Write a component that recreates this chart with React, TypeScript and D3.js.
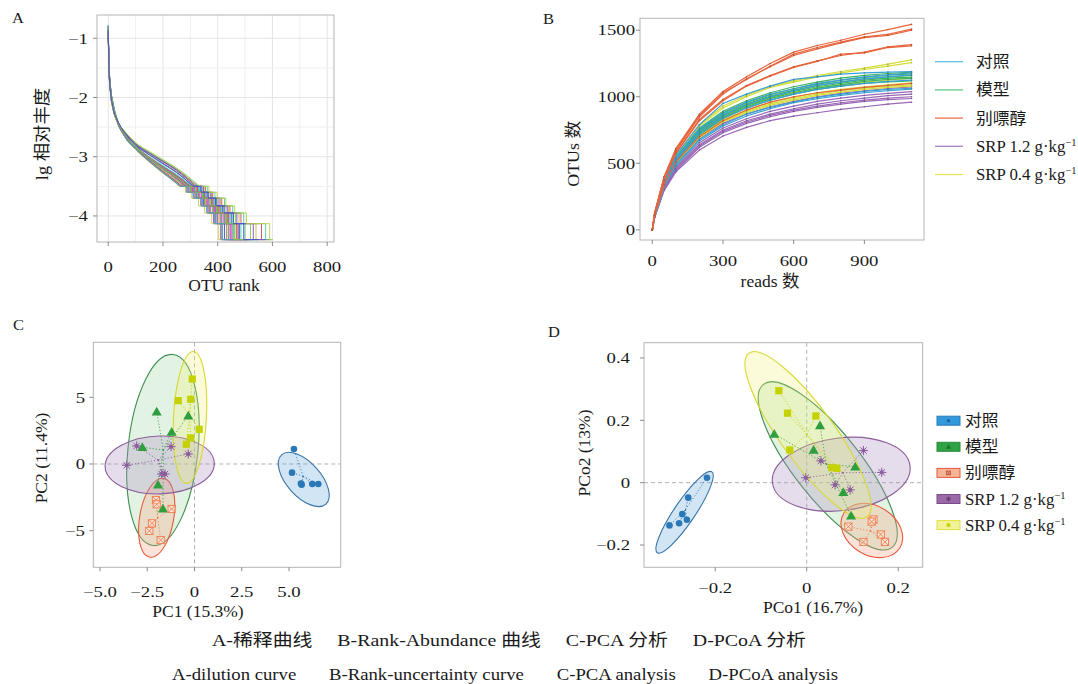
import React from 'react';
import * as d3 from 'd3';

const W = 1078;
const H = 684;
const SERIF = '"Liberation Serif","Times New Roman","Noto Sans CJK SC",serif';

// ---------------- shared categories ----------------
const GROUP_NAMES = ['对照', '模型', '别嘌醇', 'SRP 1.2 g·kg', 'SRP 0.4 g·kg'];
const GROUP_SUPS = ['', '', '', '−1', '−1'];

// ---------------- Panel A: rank-abundance ----------------
const A_X_TICKS = [0, 200, 400, 600, 800];
const A_X_GRID = [0, 100, 200, 300, 400, 500, 600, 700, 800];
const A_Y_TICKS = [-1, -2, -3, -4];
const A_Y_GRID = [-1, -1.5, -2, -2.5, -3, -3.5, -4];
const A_HEAD_RANKS = [0, 3, 8, 18, 35, 60, 100, 150, 200, 250];
const A_TAIL_LEVELS = [-3.5, -3.6, -3.7, -3.83, -3.95, -4.13, -4.4];
const A_HEAD = [
  [-0.80, -1.48, -1.84, -2.14, -2.43, -2.65, -2.85, -3.06, -3.25, -3.42],
  [-0.85, -1.52, -1.88, -2.18, -2.45, -2.65, -2.84, -3.01, -3.16, -3.31],
  [-0.82, -1.45, -1.80, -2.10, -2.41, -2.65, -2.87, -3.08, -3.27, -3.45],
  [-0.90, -1.55, -1.90, -2.20, -2.42, -2.58, -2.78, -2.93, -3.07, -3.21],
  [-0.78, -1.50, -1.86, -2.16, -2.43, -2.63, -2.83, -3.02, -3.19, -3.35],
  [-0.88, -1.47, -1.82, -2.12, -2.39, -2.60, -2.83, -3.03, -3.21, -3.38],
  [-0.83, -1.53, -1.87, -2.17, -2.44, -2.64, -2.84, -3.02, -3.18, -3.33],
  [-0.86, -1.46, -1.81, -2.11, -2.42, -2.65, -2.87, -3.07, -3.26, -3.44],
  [-0.81, -1.51, -1.89, -2.19, -2.41, -2.58, -2.78, -2.94, -3.08, -3.22],
  [-0.84, -1.49, -1.85, -2.15, -2.42, -2.62, -2.83, -3.02, -3.18, -3.34],
  [-0.87, -1.54, -1.88, -2.18, -2.40, -2.59, -2.80, -2.96, -3.11, -3.26],
  [-0.79, -1.47, -1.83, -2.13, -2.43, -2.65, -2.85, -3.05, -3.23, -3.40],
  [-0.92, -1.56, -1.91, -2.21, -2.42, -2.57, -2.77, -2.92, -3.06, -3.20],
  [-0.82, -1.50, -1.86, -2.16, -2.42, -2.62, -2.83, -3.03, -3.20, -3.36],
  [-0.85, -1.45, -1.80, -2.10, -2.40, -2.66, -2.88, -3.09, -3.28, -3.46],
  [-0.80, -1.52, -1.87, -2.17, -2.44, -2.64, -2.84, -3.02, -3.17, -3.32],
  [-0.88, -1.49, -1.84, -2.14, -2.41, -2.61, -2.83, -3.03, -3.20, -3.37],
  [-0.83, -1.53, -1.89, -2.19, -2.41, -2.58, -2.79, -2.95, -3.09, -3.24],
  [-0.81, -1.46, -1.82, -2.12, -2.42, -2.65, -2.86, -3.07, -3.25, -3.43],
  [-0.86, -1.51, -1.86, -2.16, -2.43, -2.63, -2.83, -3.02, -3.18, -3.34],
  [-0.84, -1.48, -1.83, -2.13, -2.40, -2.61, -2.84, -3.04, -3.21, -3.38],
  [-0.89, -1.54, -1.90, -2.20, -2.42, -2.58, -2.79, -2.94, -3.08, -3.23],
  [-0.80, -1.47, -1.82, -2.12, -2.42, -2.66, -2.87, -3.08, -3.26, -3.44],
  [-0.87, -1.52, -1.87, -2.17, -2.44, -2.63, -2.82, -3.00, -3.15, -3.30],
  [-0.82, -1.50, -1.85, -2.15, -2.41, -2.62, -2.83, -3.03, -3.19, -3.36],
  [-0.85, -1.55, -1.91, -2.21, -2.42, -2.57, -2.76, -2.91, -3.05, -3.19],
  [-0.78, -1.46, -1.81, -2.11, -2.41, -2.66, -2.87, -3.08, -3.27, -3.45],
  [-0.90, -1.51, -1.86, -2.16, -2.43, -2.63, -2.82, -3.01, -3.17, -3.32],
  [-0.83, -1.49, -1.84, -2.14, -2.41, -2.62, -2.83, -3.02, -3.19, -3.35],
  [-0.86, -1.53, -1.88, -2.18, -2.40, -2.59, -2.80, -2.97, -3.12, -3.27],
];
// ranks where each tail level starts, plus the last rank
const A_TAIL = [
  [270, 300, 330, 350, 372, 398, 425, 470],
  [305, 335, 360, 390, 420, 455, 500, 560],
  [262, 285, 310, 338, 360, 385, 410, 440],
  [320, 350, 378, 410, 440, 478, 540, 600],
  [290, 318, 345, 372, 398, 428, 455, 500],
  [280, 305, 330, 360, 385, 412, 440, 480],
  [300, 328, 352, 380, 405, 438, 470, 520],
  [265, 292, 318, 345, 368, 392, 418, 455],
  [325, 355, 382, 415, 445, 485, 560, 590],
  [295, 322, 348, 375, 400, 432, 462, 505],
  [310, 338, 362, 392, 418, 450, 480, 530],
  [275, 300, 325, 352, 380, 405, 432, 470],
  [330, 362, 390, 425, 455, 495, 575, 600],
  [285, 312, 340, 365, 392, 420, 448, 490],
  [258, 282, 305, 330, 352, 378, 402, 430],
  [302, 330, 355, 385, 410, 442, 476, 525],
  [282, 308, 334, 362, 388, 415, 445, 485],
  [315, 345, 372, 400, 430, 465, 520, 570],
  [268, 295, 322, 348, 372, 398, 425, 460],
  [298, 325, 350, 378, 402, 435, 468, 512],
  [278, 304, 328, 356, 382, 410, 438, 475],
  [318, 348, 375, 405, 435, 470, 530, 575],
  [266, 290, 315, 342, 366, 390, 412, 445],
  [306, 334, 358, 388, 414, 448, 485, 535],
  [288, 315, 340, 368, 395, 425, 452, 495],
  [335, 368, 398, 430, 462, 505, 590, 600],
  [263, 288, 312, 340, 362, 388, 415, 450],
  [300, 326, 352, 382, 408, 440, 474, 520],
  [292, 318, 344, 372, 396, 428, 458, 500],
  [312, 340, 366, 395, 424, 458, 495, 548],
];

// ---------------- Panel B: rarefaction ----------------
const B_X = [0, 10, 50, 100, 200, 300, 400, 500, 600, 700, 800, 900, 1000, 1100];
const B_X_TICKS = [0, 300, 600, 900];
const B_Y_TICKS = [0, 500, 1000, 1500];
const B_CTRL = [
  [0, 120, 370, 560, 790, 950, 1020, 1080, 1130, 1150, 1170, 1180, 1185, 1190],
  [0, 115, 360, 540, 760, 880, 960, 1020, 1060, 1100, 1125, 1150, 1165, 1180],
  [0, 112, 355, 530, 740, 860, 940, 1000, 1045, 1085, 1110, 1135, 1150, 1165],
  [0, 105, 330, 490, 680, 790, 870, 920, 960, 995, 1020, 1040, 1055, 1064],
  [0, 102, 325, 480, 670, 780, 855, 910, 955, 985, 1010, 1030, 1045, 1058],
  [0, 110, 345, 515, 720, 840, 915, 975, 1020, 1055, 1080, 1100, 1115, 1125],
];
const B_MODEL = [
  [0, 118, 365, 545, 765, 890, 970, 1030, 1075, 1110, 1140, 1160, 1175, 1185],
  [0, 115, 360, 535, 750, 875, 955, 1015, 1060, 1095, 1125, 1145, 1162, 1172],
  [0, 113, 355, 530, 745, 865, 945, 1005, 1050, 1085, 1112, 1135, 1150, 1160],
  [0, 110, 350, 520, 735, 855, 935, 995, 1040, 1075, 1100, 1125, 1140, 1148],
  [0, 108, 345, 515, 725, 845, 925, 985, 1030, 1065, 1090, 1115, 1130, 1138],
  [0, 106, 340, 505, 715, 835, 915, 975, 1020, 1055, 1080, 1100, 1112, 1120],
];
const B_ALLO = [
  [0, 130, 400, 610, 870, 1040, 1150, 1250, 1335, 1385, 1425, 1470, 1505, 1544],
  [0, 125, 390, 600, 860, 1030, 1130, 1230, 1320, 1370, 1410, 1450, 1470, 1508],
  [0, 128, 395, 595, 850, 1020, 1135, 1225, 1310, 1360, 1405, 1445, 1462, 1500],
  [0, 120, 380, 580, 830, 980, 1085, 1160, 1225, 1270, 1310, 1335, 1375, 1392],
  [0, 118, 375, 575, 820, 970, 1080, 1155, 1220, 1265, 1320, 1330, 1370, 1383],
  [0, 110, 340, 510, 700, 820, 900, 960, 1000, 1030, 1050, 1070, 1085, 1100],
];
const B_SRP12 = [
  [0, 105, 330, 490, 690, 800, 870, 925, 965, 1000, 1025, 1045, 1062, 1075],
  [0, 100, 315, 470, 655, 765, 835, 890, 930, 965, 990, 1010, 1025, 1038],
  [0, 98, 310, 460, 640, 750, 820, 870, 910, 945, 970, 990, 1008, 1020],
  [0, 95, 300, 445, 620, 730, 800, 850, 890, 920, 945, 965, 978, 987],
  [0, 92, 295, 435, 600, 705, 770, 820, 855, 880, 905, 925, 945, 959],
  [0, 96, 305, 450, 630, 740, 810, 860, 900, 930, 955, 975, 990, 1000],
];
const B_SRP04 = [
  [0, 120, 375, 560, 790, 930, 1010, 1080, 1120, 1160, 1190, 1215, 1245, 1277],
  [0, 118, 370, 555, 780, 915, 1000, 1070, 1110, 1150, 1180, 1205, 1230, 1256],
  [0, 112, 350, 520, 730, 850, 930, 990, 1030, 1065, 1090, 1110, 1125, 1140],
  [0, 108, 340, 500, 705, 825, 900, 955, 995, 1030, 1055, 1075, 1090, 1105],
  [0, 106, 335, 495, 695, 815, 890, 945, 985, 1020, 1045, 1065, 1080, 1090],
  [0, 104, 330, 490, 690, 810, 880, 935, 975, 1010, 1035, 1055, 1070, 1080],
];

// ---------------- Panel C: PCA ----------------
const C_X_TICKS = [-5, -2.5, 0, 2.5, 5];
const C_X_LABELS = ['−5.0', '−2.5', '0', '2.5', '5.0'];
const C_Y_TICKS = [-5, 0, 5];
const C_Y_LABELS = ['−5', '0', '5'];
const C_CTRL = [[5.26, 1.12], [5.16, -0.65], [5.63, -1.47], [5.67, -1.55], [6.23, -1.5], [6.55, -1.5]];
const C_MODEL = [[-2.0, 3.92], [-0.33, 3.62], [-1.21, 2.4], [-2.76, 1.25], [-1.93, -1.55], [-1.67, -3.35]];
const C_ALLO = [[-2.04, -2.7], [-2.0, -3.02], [-1.21, -3.37], [-2.25, -4.45], [-2.39, -5.02], [-1.79, -5.7]];
const C_SRP12 = [[-3.06, 1.35], [-3.59, -0.1], [-1.24, 1.3], [-0.33, 0.75], [-1.74, -0.75], [-1.56, -0.75]];
const C_SRP04 = [[-0.12, 6.37], [-0.86, 4.75], [-0.2, 4.85], [0.25, 2.6], [-0.2, 1.95], [-0.43, 1.48]];
// ellipse: centre x, centre y, half-axis (x units), half-axis (y units), rotation in degrees
const C_ELLIPSES = [
  [5.78, -1.16, 1.75, 1.27, 48],
  [-1.67, 1.05, 1.85, 7.2, 6],
  [-2.0, -4.03, 0.9, 3.0, 10],
  [-1.84, -0.07, 2.89, 2.17, -2],
  [-0.24, 3.49, 0.87, 4.95, 3],
];

// ---------------- Panel D: PCoA ----------------
const D_X_TICKS = [-0.2, 0, 0.2];
const D_X_LABELS = ['−0.2', '0', '0.2'];
const D_Y_TICKS = [-0.2, 0, 0.2, 0.4];
const D_Y_LABELS = ['−0.2', '0', '0.2', '0.4'];
const D_CTRL = [[-0.218, 0.016], [-0.259, -0.048], [-0.272, -0.101], [-0.262, -0.119], [-0.279, -0.13], [-0.3, -0.137]];
const D_MODEL = [[-0.071, 0.156], [0.029, 0.183], [0.015, 0.105], [0.106, 0.051], [0.08, -0.031], [0.097, -0.106]];
const D_ALLO = [[0.146, -0.118], [0.142, -0.125], [0.091, -0.141], [0.162, -0.166], [0.171, -0.19], [0.124, -0.19]];
const D_SRP12 = [[0.124, 0.103], [0.164, 0.033], [0.031, 0.07], [-0.002, 0.016], [0.062, -0.007], [0.095, -0.023]];
const D_SRP04 = [[-0.061, 0.295], [-0.042, 0.223], [0.02, 0.214], [-0.037, 0.105], [0.055, 0.048], [0.066, 0.046]];
const D_ELLIPSES = [
  [-0.267, -0.095, 0.1067, 0.0337, -56],
  [0.046, 0.054, 0.227, 0.106, 51.7],
  [0.1423, -0.1533, 0.0721, 0.0786, 32],
  [0.0754, 0.027, 0.1515, 0.1165, -7],
  [0.0028, 0.153, 0.2205, 0.0866, 54.2],
];

// ---------------- captions ----------------
const CAPTION_CN = 'A-稀释曲线     B-Rank-Abundance 曲线     C-PCA 分析     D-PCoA 分析';
const CAPTION_EN = 'A-dilution curve       B-Rank-uncertainty curve       C-PCA analysis       D-PCoA analysis';

// ---------------- styles ----------------
const B_LINE_COLORS = ['#3b9fd6', '#3db55e', '#e8643c', '#9a68b6', '#d3dd3a'];
const B_LEGEND_COLORS = ['#5cc0e4', '#62c98a', '#e8704e', '#a682c2', '#e6e65c'];
const PT_COLORS = ['#2b78b6', '#2f9e3f', '#ef7d4f', '#8b5c9c', '#c6d200'];
const ELL_STROKES = ['#3a74a8', '#3f8f4f', '#e85b3a', '#8c5d9a', '#d8d830'];
const ELL_FILLS = ['rgba(95,160,215,0.28)', 'rgba(115,195,115,0.2)', 'rgba(245,165,135,0.32)', 'rgba(175,145,195,0.32)', 'rgba(240,240,120,0.28)'];
const SW_FILLS = ['#3399dd', '#2ea343', '#f7b597', '#9a6aa8', '#f2f29a'];
const SW_STROKES = ['#2a7ab8', '#2b8a3c', '#e8553a', '#7a4a8a', '#e0e040'];
const FRAME = '#b4b4b4';
const TICK = '#8a8a8a';
const TXT = '#1a1a1a';

function fmt(v: number) {
  return v < 0 ? '−' + Math.abs(v) : String(v);
}

function Txt(props: any) {
  const { x, y, size = 15, sx = 1.25, anchor = 'start', rotate = 0, children, dy } = props;
  const t = `translate(${x},${y})` + (rotate ? ` rotate(${rotate})` : '') + ` scale(${sx},1)`;
  return (
    <text transform={t} fontSize={size} textAnchor={anchor} fontFamily={SERIF} fill={TXT} dy={dy}>
      {children}
    </text>
  );
}

function Frame({ x0, x1, y0, y1 }: any) {
  return <rect x={x0} y={y0} width={x1 - x0} height={y1 - y0} fill="none" stroke={FRAME} strokeWidth={1} />;
}

function Axes(props: any) {
  const { xs, ys, xt, xl, yt, yl, x0, y1, xLabY, yLabX } = props;
  return (
    <g>
      {xt.map((v: number, i: number) => (
        <g key={'x' + i}>
          <line x1={xs(v)} x2={xs(v)} y1={y1} y2={y1 + 4} stroke={TICK} />
          <Txt x={xs(v)} y={xLabY} anchor="middle">{xl[i]}</Txt>
        </g>
      ))}
      {yt.map((v: number, i: number) => (
        <g key={'y' + i}>
          <line x1={x0 - 4} x2={x0} y1={ys(v)} y2={ys(v)} stroke={TICK} />
          <Txt x={yLabX} y={ys(v)} anchor="end" dy="0.35em">{yl[i]}</Txt>
        </g>
      ))}
    </g>
  );
}

function Marker({ kind, x, y, color, s = 1 }: any) {
  if (kind === 0) return <circle cx={x} cy={y} r={3.3 * s} fill={color} />;
  if (kind === 1) {
    const p = d3.symbol(d3.symbolTriangle, 44 * s * s)() as string;
    return <path d={p} transform={`translate(${x},${y + 0.8 * s})`} fill={color} />;
  }
  if (kind === 2) {
    const h = 3.6 * s;
    return (
      <g transform={`translate(${x},${y})`} stroke={color} strokeWidth={0.9} fill="rgba(255,235,225,0.6)">
        <rect x={-h} y={-h} width={2 * h} height={2 * h} />
        <path d={`M${-h},${-h}L${h},${h}M${-h},${h}L${h},${-h}`} />
      </g>
    );
  }
  if (kind === 3) {
    const h = 4.6 * s;
    const d = h * 0.7071;
    return (
      <g transform={`translate(${x},${y})`} stroke={color} strokeWidth={1}>
        <path d={`M${-h},0L${h},0M0,${-h}L0,${h}M${-d},${-d}L${d},${d}M${-d},${d}L${d},${-d}`} />
        <circle r={1.6 * s} fill="none" />
      </g>
    );
  }
  const h = 3.6 * s;
  return <rect x={x - h} y={y - h} width={2 * h} height={2 * h} fill={color} />;
}

function Ell({ xs, ys, e, i }: any) {
  const cx = xs(e[0]);
  const cy = ys(e[1]);
  const rx = Math.abs(xs(e[0] + e[2]) - cx);
  const ry = Math.abs(ys(e[1] + e[3]) - cy);
  return (
    <ellipse cx={cx} cy={cy} rx={rx} ry={ry} transform={`rotate(${e[4]},${cx},${cy})`}
      fill={ELL_FILLS[i]} stroke={ELL_STROKES[i]} strokeWidth={1.1} />
  );
}

function Scatter({ xs, ys, groups, ellipses }: any) {
  return (
    <g>
      {ellipses.map((e: number[], i: number) => <Ell key={'e' + i} xs={xs} ys={ys} e={e} i={i} />)}
      {groups.map((pts: number[][], gi: number) => {
        const mx = d3.mean(pts, (p) => p[0]) as number;
        const my = d3.mean(pts, (p) => p[1]) as number;
        return (
          <g key={'s' + gi}>
            {pts.map((p, k) => (
              <line key={k} x1={xs(mx)} y1={ys(my)} x2={xs(p[0])} y2={ys(p[1])}
                stroke={PT_COLORS[gi]} strokeWidth={1} strokeDasharray="1.2,2" opacity={0.85} />
            ))}
          </g>
        );
      })}
      {groups.map((pts: number[][], gi: number) => (
        <g key={'p' + gi}>
          {pts.map((p, k) => <Marker key={k} kind={gi} x={xs(p[0])} y={ys(p[1])} color={PT_COLORS[gi]} />)}
        </g>
      ))}
    </g>
  );
}

function Label({ i, x, y }: any) {
  return (
    <Txt x={x} y={y} size={16} sx={1.05}>
      {GROUP_NAMES[i]}
      {GROUP_SUPS[i] ? <tspan fontSize={10} dy={-6}>{GROUP_SUPS[i]}</tspan> : null}
    </Txt>
  );
}

function PanelA() {
  const xs = d3.scaleLinear().domain([-41, 825]).range([97, 334]);
  const ys = d3.scaleLinear().domain([-4.44, -0.607]).range([242, 15]);
  const head = d3.line<number[]>().x((d) => xs(d[0])).y((d) => ys(d[1])).curve(d3.curveMonotoneX);
  const lin = d3.line<number[]>().x((d) => xs(d[0])).y((d) => ys(d[1]));
  const n = A_HEAD.length;
  return (
    <g>
      {A_X_GRID.map((v) => (
        <line key={'gx' + v} x1={xs(v)} x2={xs(v)} y1={15} y2={242} stroke={v % 200 === 0 ? '#e4e4e4' : '#efefef'} />
      ))}
      {A_Y_GRID.map((v) => (
        <line key={'gy' + v} x1={97} x2={334} y1={ys(v)} y2={ys(v)} stroke={Number.isInteger(v) ? '#e4e4e4' : '#efefef'} />
      ))}
      {A_HEAD.map((row, i) => {
        const tail = A_TAIL[i];
        const hp = A_HEAD_RANKS.map((r, j) => [r, row[j]]);
        hp.push([tail[0], A_TAIL_LEVELS[0]]);
        const tp: number[][] = [[tail[0], A_TAIL_LEVELS[0]]];
        for (let k = 1; k < A_TAIL_LEVELS.length; k++) {
          tp.push([tail[k], A_TAIL_LEVELS[k - 1]]);
          tp.push([tail[k], A_TAIL_LEVELS[k]]);
        }
        tp.push([tail[A_TAIL_LEVELS.length], A_TAIL_LEVELS[A_TAIL_LEVELS.length - 1]]);
        const c = d3.hsl(((i * 11) % n) * (360 / n) + 10, 0.6, 0.55).toString();
        return (
          <g key={i} stroke={c} fill="none" strokeWidth={1} opacity={0.9}>
            <path d={head(hp) as string} />
            <path d={lin(tp) as string} />
          </g>
        );
      })}
      <Frame x0={97} x1={334} y0={15} y1={242} />
      <Axes xs={xs} ys={ys} xt={A_X_TICKS} xl={A_X_TICKS.map(fmt)} yt={A_Y_TICKS} yl={A_Y_TICKS.map(fmt)}
        x0={97} y1={242} xLabY={271.5} yLabX={88} />
      <Txt x={224} y={291} anchor="middle" size={17} sx={1.03}>OTU rank</Txt>
      <Txt x={47.5} y={134} anchor="middle" size={17} sx={1.08} rotate={-90}>lg 相对丰度</Txt>
      <Txt x={12} y={23} size={15} sx={1.1}>A</Txt>
    </g>
  );
}

function PanelB() {
  const xs = d3.scaleLinear().domain([-52.2, 1153]).range([640, 924]);
  const ys = d3.scaleLinear().domain([-76.6, 1589.7]).range([240, 18.3]);
  const line = d3.line<number>().x((_d, i) => xs(B_X[i])).y((d) => ys(d));
  const order = [3, 4, 1, 0, 2];
  const groups = [B_CTRL, B_MODEL, B_ALLO, B_SRP12, B_SRP04];
  return (
    <g>
      {order.map((gi) => (
        <g key={gi}>
          {groups[gi].map((row, k) => (
            <g key={k}>
              <path d={line(row) as string} fill="none" stroke={B_LINE_COLORS[gi]} strokeWidth={1.2} />
              {row.map((v, j) => (
                <circle key={j} cx={xs(B_X[j])} cy={ys(v)} r={0.8}
                  fill={d3.color(B_LINE_COLORS[gi])!.darker(0.6).toString()} />
              ))}
            </g>
          ))}
        </g>
      ))}
      <Frame x0={640} x1={924} y0={18.3} y1={240} />
      <Axes xs={xs} ys={ys} xt={B_X_TICKS} xl={B_X_TICKS.map(fmt)} yt={B_Y_TICKS} yl={B_Y_TICKS.map(fmt)}
        x0={640} y1={240} xLabY={266} yLabX={635} />
      <Txt x={770} y={287} anchor="middle" size={17} sx={1.03}>reads 数</Txt>
      <Txt x={579} y={153.7} anchor="middle" size={17} sx={1.05} rotate={-90}>OTUs 数</Txt>
      <Txt x={543} y={24} size={15} sx={1.1}>B</Txt>
      {GROUP_NAMES.map((_n, i) => {
        const y = 61.7 + i * 28.2;
        return (
          <g key={i}>
            <line x1={935} x2={963} y1={y} y2={y} stroke={B_LEGEND_COLORS[i]} strokeWidth={1.3} />
            <Label i={i} x={976} y={y + 5.5} />
          </g>
        );
      })}
    </g>
  );
}

function PanelC() {
  const xs = d3.scaleLinear().domain([-5.354, 7.735]).range([93.3, 340.7]);
  const ys = d3.scaleLinear().domain([-7.744, 9.123]).range([567.3, 342.3]);
  return (
    <g>
      <line x1={xs(0)} x2={xs(0)} y1={342.3} y2={567.3} stroke="#b0b0b0" strokeDasharray="4,3" />
      <line x1={93.3} x2={340.7} y1={ys(0)} y2={ys(0)} stroke="#b0b0b0" strokeDasharray="4,3" />
      <Scatter xs={xs} ys={ys} groups={[C_CTRL, C_MODEL, C_ALLO, C_SRP12, C_SRP04]} ellipses={C_ELLIPSES} />
      <Frame x0={93.3} x1={340.7} y0={342.3} y1={567.3} />
      <Axes xs={xs} ys={ys} xt={C_X_TICKS} xl={C_X_LABELS} yt={C_Y_TICKS} yl={C_Y_LABELS}
        x0={93.3} y1={567.3} xLabY={596.5} yLabX={85} />
      <Txt x={198} y={617} anchor="middle" size={17} sx={1.03}>PC1 (15.3%)</Txt>
      <Txt x={47} y={458} anchor="middle" size={17} sx={1.03} rotate={-90}>PC2 (11.4%)</Txt>
      <Txt x={13} y={330} size={15} sx={1.1}>C</Txt>
    </g>
  );
}

function PanelD() {
  const xs = d3.scaleLinear().domain([-0.3557, 0.2535]).range([644, 922.7]);
  const ys = d3.scaleLinear().domain([-0.2714, 0.449]).range([567.3, 342.7]);
  return (
    <g>
      <line x1={xs(0)} x2={xs(0)} y1={342.7} y2={567.3} stroke="#b0b0b0" strokeDasharray="4,3" />
      <line x1={644} x2={922.7} y1={ys(0)} y2={ys(0)} stroke="#b0b0b0" strokeDasharray="4,3" />
      <Scatter xs={xs} ys={ys} groups={[D_CTRL, D_MODEL, D_ALLO, D_SRP12, D_SRP04]} ellipses={D_ELLIPSES} />
      <Frame x0={644} x1={922.7} y0={342.7} y1={567.3} />
      <Axes xs={xs} ys={ys} xt={D_X_TICKS} xl={D_X_LABELS} yt={D_Y_TICKS} yl={D_Y_LABELS}
        x0={644} y1={567.3} xLabY={593} yLabX={630} />
      <Txt x={813} y={612.5} anchor="middle" size={17} sx={1.03}>PCo1 (16.7%)</Txt>
      <Txt x={590} y={453} anchor="middle" size={17} sx={1.03} rotate={-90}>PCo2 (13%)</Txt>
      <Txt x={548} y={337} size={15} sx={1.1}>D</Txt>
      {GROUP_NAMES.map((_n, i) => {
        const y = 420.7 + i * 26.1;
        return (
          <g key={i}>
            <rect x={937} y={y - 4.5} width={23} height={9} fill={SW_FILLS[i]} stroke={SW_STROKES[i]} strokeWidth={1} />
            <Marker kind={i} x={948.5} y={y} color={i === 4 ? '#c6d200' : d3.color(SW_STROKES[i])!.darker(0.6).toString()} s={0.5} />
            <Label i={i} x={965} y={y + 5.5} />
          </g>
        );
      })}
    </g>
  );
}

export default function App() {
  return (
    <svg width={W} height={H} viewBox={`0 0 ${W} ${H}`}
      style={{ position: 'absolute', left: 0, top: 0, background: '#fff', display: 'block' }}>
      <rect x={0} y={0} width={W} height={H} fill="#fff" />
      <PanelA />
      <PanelB />
      <PanelC />
      <PanelD />
      <text x={212} y={646} fontSize={17.5} fontFamily={SERIF} fill={TXT} textLength={594}
        lengthAdjust="spacingAndGlyphs" style={{ whiteSpace: 'pre' }}>{CAPTION_CN}</text>
      <text x={172} y={680} fontSize={17.5} fontFamily={SERIF} fill={TXT} textLength={666}
        lengthAdjust="spacingAndGlyphs" style={{ whiteSpace: 'pre' }}>{CAPTION_EN}</text>
    </svg>
  );
}
